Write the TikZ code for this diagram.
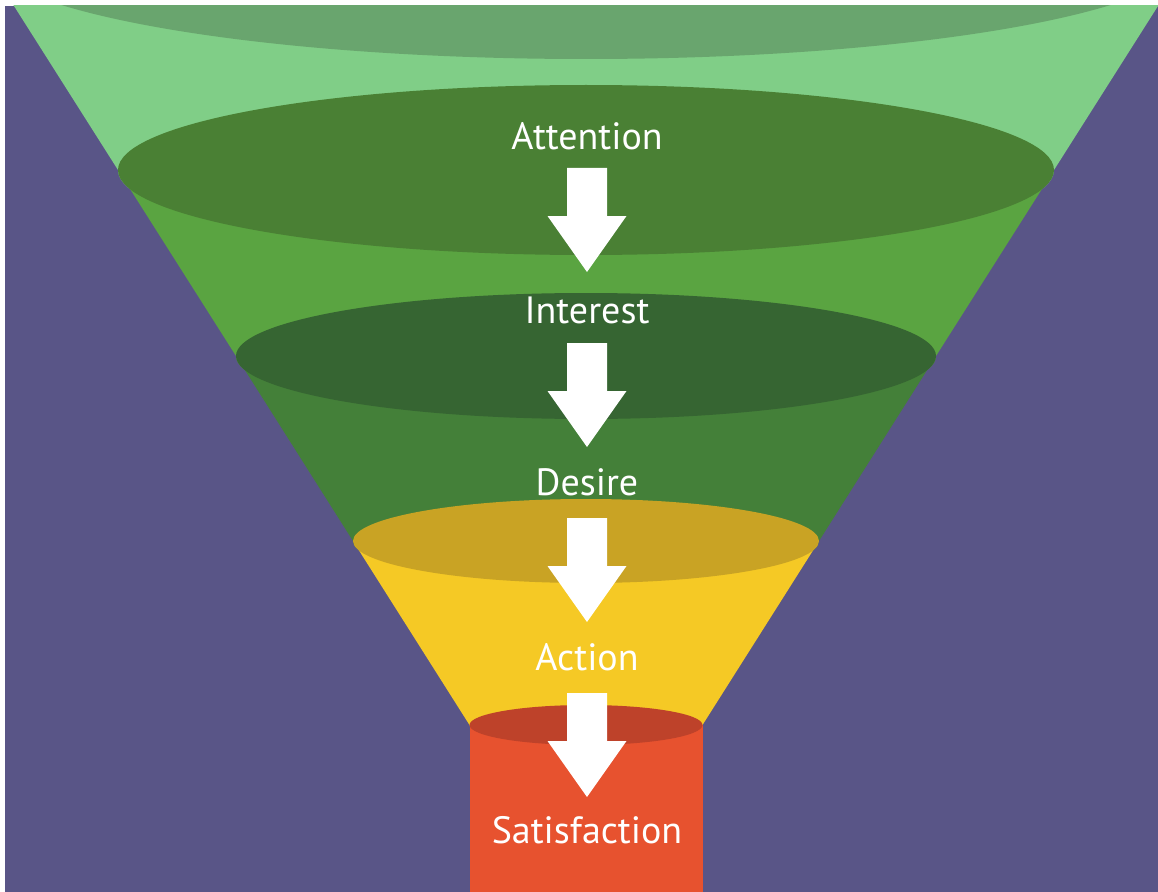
\documentclass[tikz,border=0pt]{standalone}
\usepackage{fontspec}
\setmainfont{PT Sans}

\definecolor{bgpurple}{HTML}{595587}
\definecolor{capgreen}{HTML}{69A56E}
\definecolor{lightgreen}{HTML}{80CE87}
\definecolor{attgreen}{HTML}{4A8034}
\definecolor{midgreen}{HTML}{5AA441}
\definecolor{intgreen}{HTML}{366532}
\definecolor{desgreen}{HTML}{448039}
\definecolor{desyellow}{HTML}{C9A324}
\definecolor{actyellow}{HTML}{F5C925}
\definecolor{satdark}{HTML}{BE422A}
\definecolor{satred}{HTML}{E7522F}

\tikzset{stage/.style={text=white, anchor=base, inner sep=0pt, font=\fontsize{28.5}{30}\selectfont}}

\begin{document}
\begin{tikzpicture}[x=0.75pt, y=-0.75pt]
	% Define canvas
	\useasboundingbox (0,0) rectangle (1158,892);
	\fill[white] (0,0) rectangle (1158,892);
	\fill[bgpurple] (5,6) rectangle (1158,892);
	
	\begin{scope}
		\clip (5,6) rectangle (1158,892);
		
		% Draw funnel bands
		\fill[lightgreen] (-21.5,-50) -- (118,170) arc[start angle=180, end angle=0, x radius=468, y radius=85] -- (1193.5,-50) -- cycle;
		\fill[midgreen] (118,170) -- (236,356) arc[start angle=180, end angle=0, x radius=350, y radius=63] -- (1054,170) -- cycle;
		\fill[desgreen] (236,356) -- (353,541) arc[start angle=180, end angle=0, x radius=233, y radius=42] -- (936,356) -- cycle;
		\fill[actyellow] (353,541) -- (469.5,725) arc[start angle=180, end angle=0, x radius=116.5, y radius=20] -- (819,541) -- cycle;
		\fill[satred] (469.5,725) rectangle (702.5,892);
		
		% Draw ellipses
		\fill[capgreen] (586,-50) ellipse[x radius=607.5, y radius=109];
		\fill[attgreen] (586,170) ellipse[x radius=468, y radius=85];
		\fill[intgreen] (586,356) ellipse[x radius=350, y radius=63];
		\fill[desyellow] (586,541) ellipse[x radius=233, y radius=42];
		\fill[satdark] (586,725) ellipse[x radius=116.5, y radius=20];
	\end{scope}
	
	% Define stages
	\node[stage] (attention) at (587,150) {Attention};
	\node[stage] (interest) at (587,323) {Interest};
	\node[stage] (desire) at (587,495) {Desire};
	\node[stage] (action) at (587,670) {Action};
	\node[stage] (satisfaction) at (587,843) {Satisfaction};
	
	% Draw arrows
	\foreach \y in {168,343,518,693}
		\fill[white] (567,\y) -- (607,\y) -- (607,\y+48) -- (626.5,\y+48) -- (587,\y+104) -- (547.5,\y+48) -- (567,\y+48) -- cycle;
\end{tikzpicture}
\end{document}
